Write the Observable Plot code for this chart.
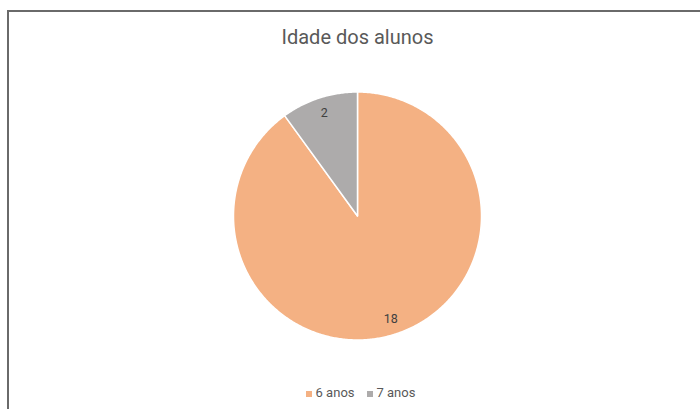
<!DOCTYPE html>
<html><head><meta charset="utf-8">
<script src="https://cdn.jsdelivr.net/npm/d3@7"></script>
<script src="https://cdn.jsdelivr.net/npm/@observablehq/plot@0.6"></script>
<style>
body{margin:0;background:#fff;font-family:Roboto,"Open Sans",sans-serif;}
#wrap{position:relative;width:700px;height:409px;overflow:hidden;background:#fff;}
#frame{position:absolute;left:7px;top:10px;width:720px;height:420px;border-top:2px solid #6a6a6a;border-left:2px solid #6a6a6a;box-sizing:border-box;}
#title{position:absolute;top:25px;left:0;width:715px;text-align:center;font-size:20px;color:#595959;}
#chart{position:absolute;left:0;top:0;}
#legend{position:absolute;top:385px;left:0;width:721px;display:flex;justify-content:center;font-size:13px;color:#595959;}
.item{display:flex;align-items:center;margin:0 6px;}
.sw{width:6px;height:6px;margin-right:4px;margin-top:3px;}
</style>
</head><body>
<div id="wrap">
  <div id="frame"></div>
  <div id="chart"></div>
  <div id="title"></div>
  <div id="legend"></div>
</div>
<script>
const titleText = "Idade dos alunos";
const categories = ["6 anos", "7 anos"];
const values = [18, 2];
const colors = ["#F4B183", "#ADABAB"];

const cx = 357, cy = 215.5, r = 124;
const arcs = d3.pie().sort(null).startAngle(0).endAngle(2 * Math.PI)(values);

// polygon outline of each slice in unit-circle coordinates (y up)
const pts = [];
arcs.forEach((a, i) => {
  const name = categories[i];
  pts.push({name, x: 0, y: 0});
  const n = Math.max(4, Math.ceil((a.endAngle - a.startAngle) / 0.01));
  for (let k = 0; k <= n; k++) {
    const t = a.startAngle + (a.endAngle - a.startAngle) * k / n;
    pts.push({name, x: Math.sin(t), y: Math.cos(t)});
  }
});
const labels = arcs.map((a, i) => {
  const m = (a.startAngle + a.endAngle) / 2;
  return {text: String(values[i]), x: 0.87 * Math.sin(m), y: 0.87 * Math.cos(m)};
});

const chart = Plot.plot({
  width: 700,
  height: 409,
  margin: 0,
  x: {domain: [-1, 1], range: [cx - r, cx + r], axis: null},
  y: {domain: [-1, 1], range: [cy + r, cy - r], axis: null},
  color: {domain: categories, range: colors},
  style: {background: "transparent", overflow: "visible"},
  marks: [
    Plot.line(pts, {x: "x", y: "y", z: "name", fill: "name", stroke: "white", strokeWidth: 1.5, curve: "linear-closed"}),
    Plot.text(labels, {x: "x", y: "y", text: "text", fontSize: 12.5, fill: "#404040", fontFamily: "Roboto, sans-serif"})
  ]
});
document.getElementById("chart").appendChild(chart);
document.getElementById("title").textContent = titleText;

const leg = document.getElementById("legend");
categories.forEach((c, i) => {
  const it = document.createElement("div");
  it.className = "item";
  const sw = document.createElement("span");
  sw.className = "sw";
  sw.style.background = colors[i];
  const tx = document.createElement("span");
  tx.textContent = c;
  it.appendChild(sw); it.appendChild(tx);
  leg.appendChild(it);
});
</script>
</body></html>
